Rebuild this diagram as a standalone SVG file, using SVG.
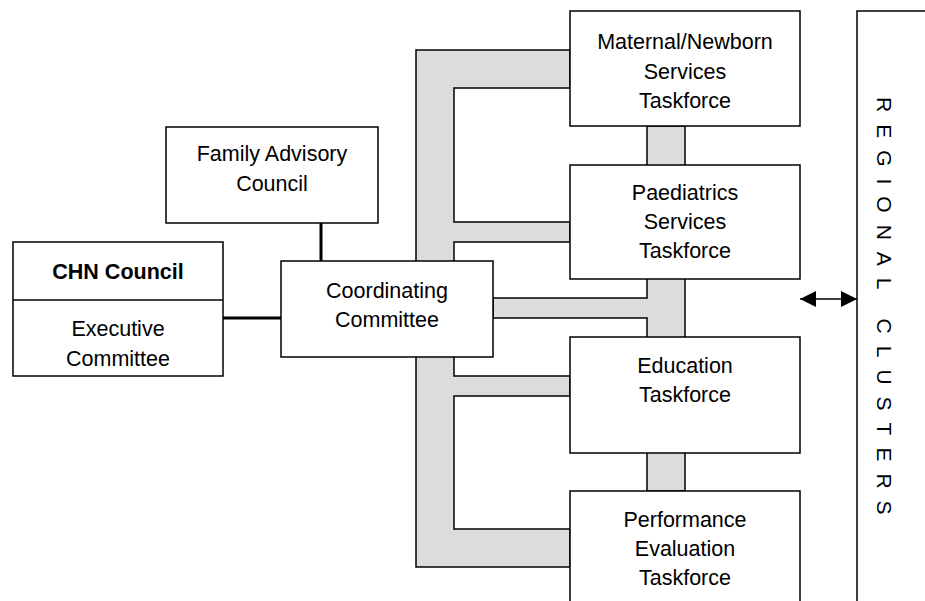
<svg xmlns="http://www.w3.org/2000/svg" width="925" height="601" viewBox="0 0 925 601">
  <style>
    .box { fill: #ffffff; stroke: #000000; stroke-width: 1.5; }
    .band { fill: #dcdcdc; stroke: #000000; stroke-width: 1.5; stroke-linejoin: miter; }
    .thick { stroke: #000000; stroke-width: 3; fill: none; }
    .arrow { stroke: #000000; stroke-width: 1.5; fill: none; }
    text { font-family: "Liberation Sans", Arial, sans-serif; font-size: 21.5px; fill: #000000; text-anchor: middle; }
    .bold { font-weight: bold; }
    .vert { text-anchor: start; letter-spacing: 12px; font-size: 21px; }
  </style>
  <defs>
    <marker id="head" viewBox="0 0 10 10" refX="10" refY="5" markerUnits="userSpaceOnUse" markerWidth="19" markerHeight="16" orient="auto-start-reverse">
      <path d="M0,0 L10,5 L0,10 Z" fill="#000000"/>
    </marker>
  </defs>
  <rect x="0" y="0" width="925" height="601" fill="#ffffff"/>

  <g id="connectors">
    <polygon class="band" points="570,50 416,50 416,567 570,567 570,529 454,529 454,396 570,396 570,376 454,376 454,242 570,242 570,222 454,222 454,88 570,88"/>
    <polygon class="band" points="647,126 685,126 685,491 647,491 647,318 493,318 493,298 647,298"/>
    <line class="thick" x1="321" y1="223" x2="321" y2="261"/>
    <line class="thick" x1="223" y1="318" x2="281" y2="318"/>
    <line class="arrow" x1="800" y1="299" x2="857" y2="299" marker-start="url(#head)" marker-end="url(#head)"/>
  </g>

  <g id="family-advisory-council">
    <rect class="box" x="166" y="127" width="212" height="96"/>
    <text x="272" y="161">Family Advisory</text>
    <text x="272" y="191">Council</text>
  </g>

  <g id="chn-council">
    <rect class="box" x="13" y="242" width="210" height="134"/>
    <line x1="13" y1="300" x2="223" y2="300" stroke="#000000" stroke-width="1.5"/>
    <text class="bold" x="118" y="279">CHN Council</text>
    <text x="118" y="336">Executive</text>
    <text x="118" y="366">Committee</text>
  </g>

  <g id="coordinating-committee">
    <rect class="box" x="281" y="261" width="212" height="96"/>
    <text x="387" y="298">Coordinating</text>
    <text x="387" y="327">Committee</text>
  </g>

  <g id="maternal-newborn">
    <rect class="box" x="570" y="11" width="230" height="115"/>
    <text x="685" y="49">Maternal/Newborn</text>
    <text x="685" y="79">Services</text>
    <text x="685" y="108">Taskforce</text>
  </g>

  <g id="paediatrics">
    <rect class="box" x="570" y="165" width="230" height="114"/>
    <text x="685" y="200">Paediatrics</text>
    <text x="685" y="229">Services</text>
    <text x="685" y="258">Taskforce</text>
  </g>

  <g id="education">
    <rect class="box" x="570" y="337" width="230" height="116"/>
    <text x="685" y="373">Education</text>
    <text x="685" y="402">Taskforce</text>
  </g>

  <g id="performance-evaluation">
    <rect class="box" x="570" y="491" width="230" height="140"/>
    <text x="685" y="527">Performance</text>
    <text x="685" y="556">Evaluation</text>
    <text x="685" y="585">Taskforce</text>
  </g>

  <g id="regional-clusters">
    <rect class="box" x="857" y="11" width="100" height="620"/>
    <text class="vert" x="0" y="0" transform="translate(877,97) rotate(90)">REGIONAL CLUSTERS</text>
  </g>
</svg>
